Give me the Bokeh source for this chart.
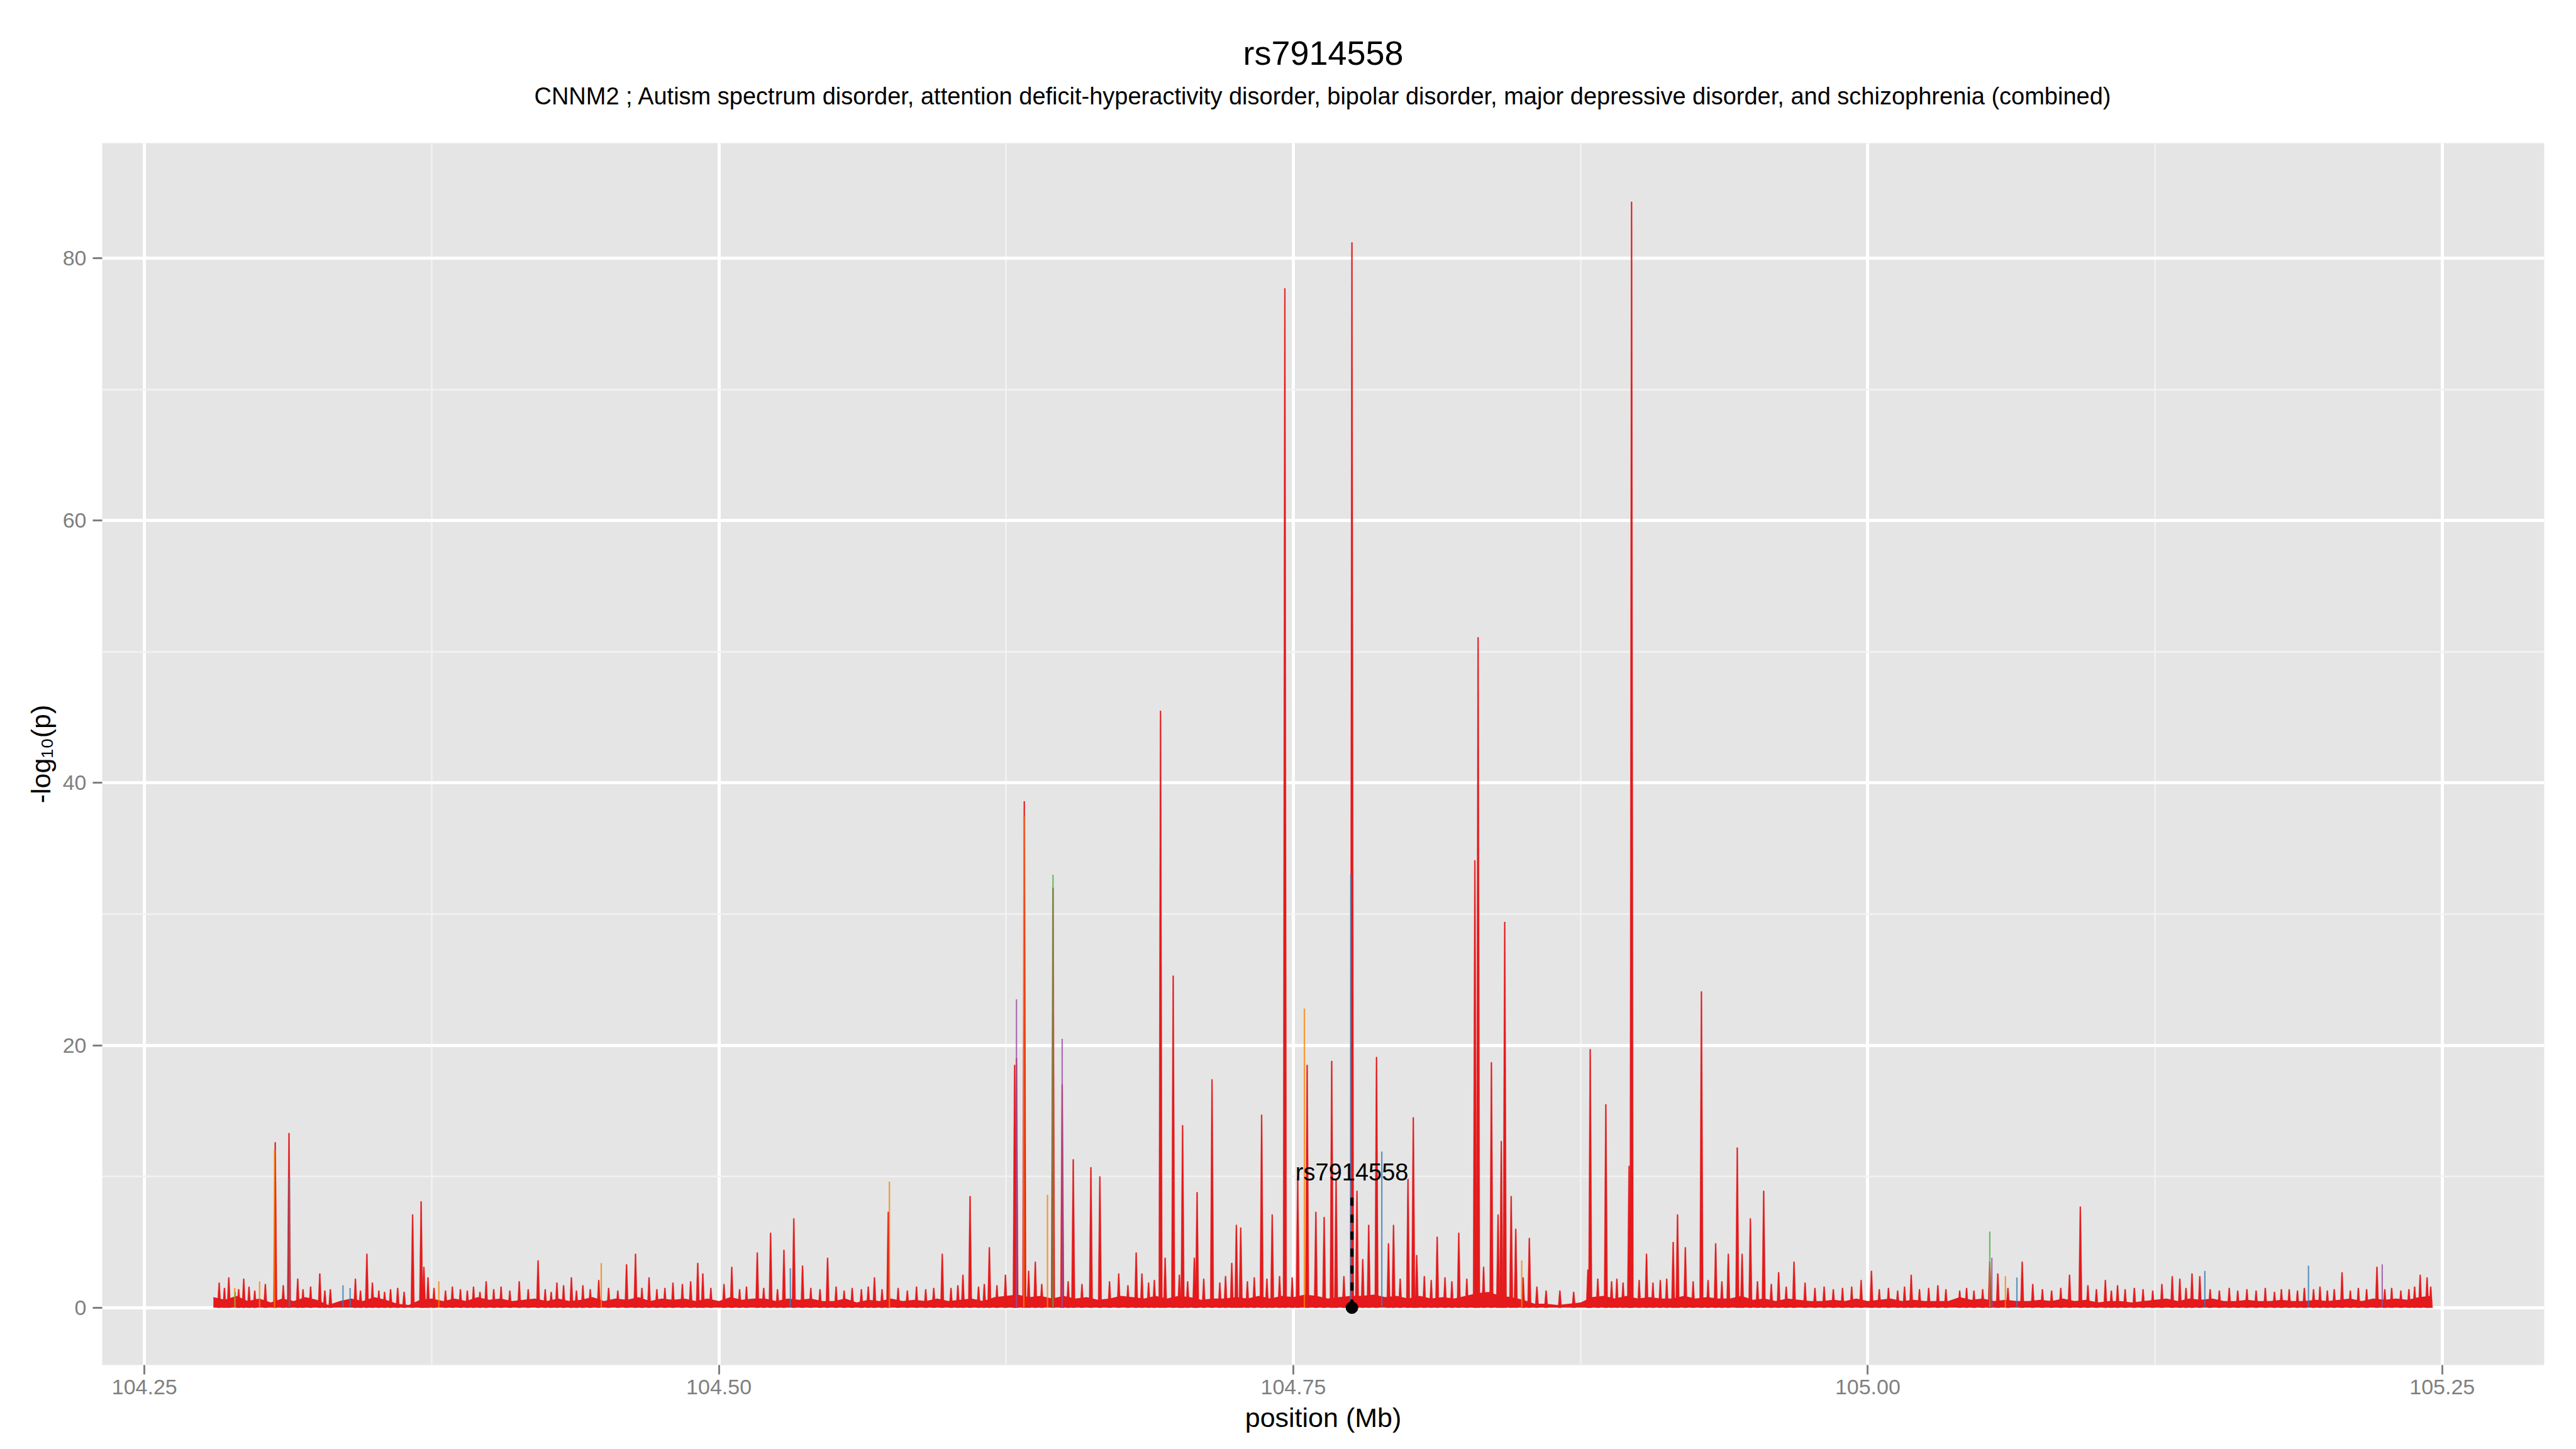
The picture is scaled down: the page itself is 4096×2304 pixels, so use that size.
import numpy as np
from bokeh.plotting import figure
from bokeh.models import FixedTicker, Range1d, Title, PrintfTickFormatter
from bokeh.embed import file_html
from bokeh.resources import INLINE
from bokeh.core.properties import value

# ---------------- data ----------------
TITLE = "rs7914558"
SUBTITLE = ("CNNM2 ; Autism spectrum disorder, attention deficit-hyperactivity disorder, "
            "bipolar disorder, major depressive disorder, and schizophrenia (combined)")
SNP_NAME = "rs7914558"
SNP_POS = 104.7755
SNP_LINE_TOP = 8.8
SNP_LABEL_Y = 10.3

x_ticks = [104.25, 104.50, 104.75, 105.00, 105.25]
x_minor = [104.375, 104.625, 104.875, 105.125]
y_ticks = [0, 20, 40, 60, 80]
y_minor = [10, 30, 50, 70]

# solid core level of the combined track, sampled every 0.005 Mb from 104.280
bg_start = 104.280
bg_step = 0.005
bg_val = [0.8, 0.6, 0.9, 0.5, 0.7, 0.4, 0.7, 0.5, 0.8, 0.6,
          0.2, 0.5, 0.7, 0.5, 0.8, 0.6, 0.3, 0.2, 0.6, 0.7,
          0.5, 0.7, 0.5, 0.8, 0.6, 0.7, 0.5, 0.6, 0.7, 0.5,
          0.7, 0.5, 0.6, 0.8, 0.5, 0.7, 0.6, 0.8, 0.5, 0.7,
          0.6, 0.7, 0.5, 0.7, 0.5, 0.8, 0.6, 0.7, 0.7, 0.5,
          0.7, 0.6, 0.7, 0.5, 0.5, 0.7, 0.4, 0.6, 0.5, 0.7,
          0.5, 0.6, 0.5, 0.7, 0.5, 0.6, 0.7, 0.5, 0.8, 0.9,
          1.0, 0.8, 0.9, 0.7, 0.9, 0.7, 0.8, 0.6, 0.7, 0.9,
          0.8, 0.7, 0.9, 0.7, 0.9, 0.8, 0.6, 0.7, 0.7, 0.8,
          0.7, 0.9, 0.7, 0.9, 0.8, 1.0, 0.9, 0.7, 0.8, 0.9,
          0.9, 1.0, 0.8, 0.9, 0.7, 0.9, 0.7, 0.8, 0.7, 0.9,
          1.1, 1.2, 0.9, 0.8, 0.6, 0.3, 0.3, 0.2, 0.3, 0.4,
          0.8, 0.9, 0.7, 0.9, 0.7, 0.8, 0.7, 0.7, 0.9, 0.7,
          0.8, 0.7, 0.7, 0.9, 0.6, 0.7, 0.5, 0.7, 0.6, 0.5,
          0.5, 0.6, 0.5, 0.7, 0.5, 0.6, 0.7, 0.5, 0.6, 0.5,
          0.5, 0.5, 0.8, 0.6, 0.7, 0.5, 0.6, 0.5, 0.5, 0.6,
          0.5, 0.7, 0.5, 0.6, 0.4, 0.5, 0.5, 0.4, 0.5, 0.6,
          0.7, 0.5, 0.7, 0.6, 0.7, 0.5, 0.5, 0.6, 0.5, 0.5,
          0.6, 0.5, 0.5, 0.6, 0.5, 0.6, 0.7, 0.5, 0.7, 0.6,
          0.7, 0.6, 0.8, 0.9]
bg_pos = [round(bg_start + i * bg_step, 3) for i in range(len(bg_val))]

# combined (red) peaks: position (Mb), -log10(p)
red_pos = [104.2825, 104.2848, 104.2867, 104.2910, 104.2932, 104.2955, 104.2980, 104.3026,
           104.3069, 104.3104, 104.3129, 104.3167, 104.3190, 104.3223, 104.3263, 104.3285,
           104.3309, 104.3418, 104.3440, 104.3468, 104.3492, 104.3520, 104.3545, 104.3571,
           104.3602, 104.3630, 104.3667, 104.3704, 104.3716, 104.3734, 104.3760, 104.3810,
           104.3840, 104.3875, 104.3905, 104.3932, 104.3960, 104.3987, 104.4020, 104.4052,
           104.4090, 104.4131, 104.4170, 104.4213, 104.4244, 104.4270, 104.4295, 104.4324,
           104.4358, 104.4380, 104.4408, 104.4440, 104.4477, 104.4520, 104.4560, 104.4598,
           104.4637, 104.4665, 104.4696, 104.4730, 104.4765, 104.4800, 104.4841, 104.4877,
           104.4908, 104.4930, 104.4965,
           104.5022, 104.5056, 104.5090, 104.5120, 104.5167, 104.5195, 104.5225, 104.5255,
           104.5283, 104.5326, 104.5364, 104.5400, 104.5440, 104.5473, 104.5510, 104.5545,
           104.5580, 104.5620, 104.5650, 104.5677, 104.5710, 104.5737, 104.5780, 104.5820,
           104.5860, 104.5900, 104.5935, 104.5972, 104.6010, 104.6040, 104.6062, 104.6093,
           104.6130, 104.6155, 104.6177, 104.6210, 104.6247, 104.6287, 104.6295, 104.6329,
           104.6348, 104.6377, 104.6405, 104.6454, 104.6494, 104.6520, 104.6542, 104.6580,
           104.6619, 104.6658, 104.6700, 104.6740, 104.6780, 104.6816, 104.6841, 104.6870,
           104.6895, 104.6922, 104.6942, 104.6977, 104.7004, 104.7018, 104.7040, 104.7069,
           104.7081, 104.7110, 104.7146, 104.7180, 104.7205, 104.7232, 104.7252, 104.7271,
           104.7300, 104.7330, 104.7362, 104.7385, 104.7408, 104.7440, 104.7463, 104.7495,
           104.7519, 104.7560, 104.7598, 104.7634, 104.7667,
           104.7686, 104.7720, 104.7755, 104.7777, 104.7802, 104.7828, 104.7862, 104.7914,
           104.7936, 104.7965, 104.7999, 104.8022, 104.8037, 104.8070, 104.8100, 104.8126,
           104.8160, 104.8190, 104.8220, 104.8255, 104.8290, 104.8304, 104.8328, 104.8362,
           104.8391, 104.8405, 104.8420, 104.8448, 104.8468, 104.8500, 104.8527, 104.8560,
           104.8600, 104.8660, 104.8720, 104.8782, 104.8792, 104.8825, 104.8860, 104.8885,
           104.8908, 104.8935, 104.8961, 104.8972, 104.9005, 104.9037, 104.9065, 104.9097,
           104.9125, 104.9153, 104.9172, 104.9206, 104.9240, 104.9276, 104.9305, 104.9338,
           104.9365, 104.9393, 104.9432, 104.9453, 104.9489, 104.9520, 104.9547, 104.9580,
           104.9612, 104.9645, 104.9679, 104.9727, 104.9770, 104.9810, 104.9850, 104.9890,
           104.9930, 104.9971, 105.0016, 105.0050, 105.0090, 105.0130, 105.0160, 105.0189,
           105.0225, 105.0265, 105.0305, 105.0340,
           105.0400, 105.0430, 105.0462, 105.0500, 105.0531, 105.0566, 105.0610, 105.0672,
           105.0718, 105.0760, 105.0800, 105.0840, 105.0878, 105.0925, 105.0958, 105.0995,
           105.1034, 105.1060, 105.1087, 105.1120, 105.1160, 105.1198, 105.1240, 105.1280,
           105.1325, 105.1358, 105.1385, 105.1411, 105.1445, 105.1490, 105.1530, 105.1573,
           105.1610, 105.1650, 105.1690, 105.1730, 105.1770, 105.1800, 105.1834, 105.1870,
           105.1900, 105.1940, 105.1968, 105.2000, 105.2030, 105.2064, 105.2100, 105.2135,
           105.2171, 105.2216, 105.2250, 105.2280, 105.2320, 105.2355, 105.2380, 105.2404,
           105.2434, 105.2450]
red_val = [1.9, 1.5, 2.3, 1.4, 2.2, 1.6, 1.3, 1.8,
           12.6, 1.7, 13.3, 2.2, 1.4, 1.6, 2.6, 1.3,
           1.4, 2.2, 1.3, 4.1, 1.9, 1.3, 1.2, 1.4,
           1.5, 1.2, 7.1, 8.1, 3.1, 2.3, 1.5, 1.3,
           1.6, 1.4, 1.3, 1.6, 1.2, 2.0, 1.4, 1.6,
           1.3, 2.0, 1.4, 3.6, 1.4, 1.2, 1.9, 1.7,
           2.3, 1.3, 1.7, 1.4, 2.1, 1.5, 1.3, 3.3,
           4.1, 1.5, 2.3, 1.4, 1.5, 1.9, 1.8, 2.0,
           3.4, 2.6, 1.5,
           1.8, 3.1, 1.4, 1.6, 4.2, 1.5, 5.7, 1.4,
           4.4, 6.8, 3.2, 1.5, 1.4, 3.8, 1.6, 1.3,
           1.5, 1.4, 1.6, 2.3, 1.4, 7.3, 1.5, 1.3,
           1.6, 1.4, 1.5, 4.1, 1.5, 1.7, 2.5, 8.5,
           1.6, 1.8, 4.6, 1.7, 2.5, 18.5, 19.0, 38.6,
           2.8, 3.5, 1.8, 32.0, 17.0, 2.0, 11.3, 1.8,
           10.7, 10.0, 2.0, 2.6, 1.7, 4.2, 2.6, 1.9,
           2.1, 45.5, 3.8, 25.3, 2.5, 13.9, 2.0, 3.8,
           8.8, 2.2, 17.4, 1.9, 2.4, 3.4, 6.3, 6.1,
           2.0, 2.3, 14.7, 2.2, 7.1, 2.4, 77.7, 2.3,
           10.0, 18.5, 7.3, 6.9, 18.8,
           9.8, 2.4, 81.2, 8.9, 3.7, 6.3, 19.1, 4.9,
           6.3, 2.2, 9.8, 14.5, 4.0, 2.4, 2.1, 5.4,
           2.3, 2.0, 5.7, 2.2, 34.1, 51.1, 3.1, 18.7,
           7.1, 12.7, 29.4, 8.5, 6.0, 2.3, 5.3, 1.6,
           1.3, 1.3, 1.2, 2.9, 19.7, 2.2, 15.5, 2.0,
           2.2, 1.9, 10.8, 84.3, 2.1, 4.1, 1.9, 2.1,
           2.2, 5.0, 7.1, 4.6, 2.0, 24.1, 2.1, 4.9,
           2.0, 4.1, 12.2, 4.1, 6.8, 2.0, 8.9, 1.8,
           2.7, 1.6, 3.5, 1.9, 1.5, 1.6, 1.4, 1.5,
           1.6, 2.1, 2.8, 1.4, 1.5, 1.3, 1.6, 2.5,
           1.4, 1.5, 1.7, 1.4,
           1.3, 1.5, 1.3, 1.4, 3.5, 2.6, 1.5, 3.5,
           1.8, 1.4, 1.3, 1.5, 2.5, 7.7, 1.7, 1.4,
           2.1, 1.3, 1.7, 1.4, 1.5, 1.4, 1.3, 1.8,
           2.4, 2.2, 1.5, 2.6, 2.4, 1.4, 1.3, 1.5,
           1.3, 1.4, 1.3, 1.5, 1.2, 1.4, 1.4, 1.3,
           1.5, 1.4, 1.6, 1.3, 1.4, 2.7, 1.3, 1.5,
           1.4, 3.1, 1.4, 1.5, 1.3, 1.4, 1.6, 2.5,
           2.3, 1.6]

# single-disorder tracks that rise above the combined one
orange_pos = [104.2893, 104.3001, 104.3066, 104.3781, 104.4488, 104.5742, 104.6327,
              104.6430, 104.7548, 104.8494, 105.0599]
orange_val = [1.5, 2.0, 12.0, 2.0, 3.4, 9.6, 37.5, 8.6, 22.8, 3.6, 2.4]
blue_pos = [104.3131, 104.3364, 104.3395, 104.5311, 104.7750, 104.7885, 105.0649,
            105.1467, 105.1918]
blue_val = [9.9, 1.7, 1.5, 3.0, 33.0, 11.9, 2.3, 2.8, 3.2]
purple_pos = [104.6295, 104.6494, 105.0540, 105.2239]
purple_val = [23.5, 20.5, 3.8, 3.3]
green_pos = [104.2895, 104.6454, 105.0531]
green_val = [1.2, 33.0, 5.8]

# ---------------- styling ----------------
RED = "#E41A1C"
ORANGE = "#FF7F00"
BLUE = "#377EB8"
PURPLE = "#984EA3"
GREEN = "#4DAF4A"
FONT = "Liberation Sans"
GREY = "#7F7F7F"

FW, FH = 3883, 1943
TOP = 227
p = figure(frame_width=FW, frame_height=FH,
           x_range=Range1d(104.2316, 105.2944), y_range=Range1d(-4.375, 88.78),
           output_backend="svg", toolbar_location=None, title=None,
           min_border_left=162, min_border_right=43, min_border_top=TOP,
           min_border_bottom=126)
p.background_fill_color = "#E5E5E5"
p.border_fill_color = "white"
p.outline_line_color = None

# titles: an empty spacer next to the frame, then subtitle, then title
spacer = Title(text=" ", align="center", text_font=FONT, text_font_size="10px",
               standoff=41)
p.add_layout(spacer, "above")
sub = Title(text=SUBTITLE, align="center", text_font=FONT, text_font_size="38px",
            text_font_style="normal", text_color="black", standoff=0)
p.add_layout(sub, "above")
ttl = Title(text=TITLE, align="center", text_font=FONT, text_font_size="54px",
            text_font_style="normal", text_color="black", standoff=31)
p.add_layout(ttl, "above")

# axes
p.xaxis.ticker = FixedTicker(ticks=x_ticks, minor_ticks=x_minor)
p.xaxis.formatter = PrintfTickFormatter(format="%.2f")
p.yaxis.ticker = FixedTicker(ticks=y_ticks, minor_ticks=y_minor)
for ax in (p.xaxis, p.yaxis):
    ax.axis_line_color = None
    ax.major_tick_out = 15
    ax.major_tick_in = 0
    ax.minor_tick_out = 0
    ax.minor_tick_in = 0
    ax.major_tick_line_color = GREY
    ax.major_tick_line_width = 3
    ax.major_label_text_font = FONT
    ax.major_label_text_font_size = "34px"
    ax.major_label_text_color = GREY
    ax.axis_label_text_font = FONT
    ax.axis_label_text_font_size = "43px"
    ax.axis_label_text_font_style = "normal"
    ax.axis_label_text_color = "black"
p.xaxis.axis_label = "position (Mb)"
p.yaxis.axis_label = "-log\u2081\u2080(p)"
p.xaxis.major_label_standoff = 8
p.yaxis.major_label_standoff = 10
p.xaxis.axis_label_standoff = 10
p.yaxis.axis_label_standoff = 8

for g in (p.xgrid, p.ygrid):
    g.grid_line_color = "white"
    g.grid_line_width = 5
    g.minor_grid_line_color = "#F2F2F2"
    g.minor_grid_line_width = 2.5

# solid core of the combined track
p.varea(x=bg_pos, y1=0, y2=bg_val, fill_color=RED, fill_alpha=1.0)

# peaks as narrow spikes
d_base, d_top = 0.0008, 0.00022
xs = [[x - d_base, x - d_top, x + d_top, x + d_base] for x in red_pos]
ys = [[0, h, h, 0] for h in red_val]
p.patches(xs, ys, fill_color=RED, line_color=RED, line_width=0.8, line_alpha=0.6)

for pos, val, col in ((orange_pos, orange_val, ORANGE), (blue_pos, blue_val, BLUE),
                      (purple_pos, purple_val, PURPLE), (green_pos, green_val, GREEN)):
    p.segment(x0=pos, y0=[0] * len(pos), x1=pos, y1=val, line_color=col,
              line_width=2.2, line_alpha=0.8)

# highlighted SNP
p.segment(x0=[SNP_POS], y0=[0], x1=[SNP_POS], y1=[SNP_LINE_TOP], line_color="black",
          line_width=5, line_dash="13 14")
p.scatter(x=[SNP_POS], y=[0], size=19, fill_color="black", line_color="black")
p.text(x=[SNP_POS], y=[SNP_LABEL_Y], text=[SNP_NAME], text_align="center",
       text_baseline="alphabetic", text_font=value(FONT), text_font_size="38px",
       text_color="black")

open("out.html", "w").write(file_html(p, INLINE))
